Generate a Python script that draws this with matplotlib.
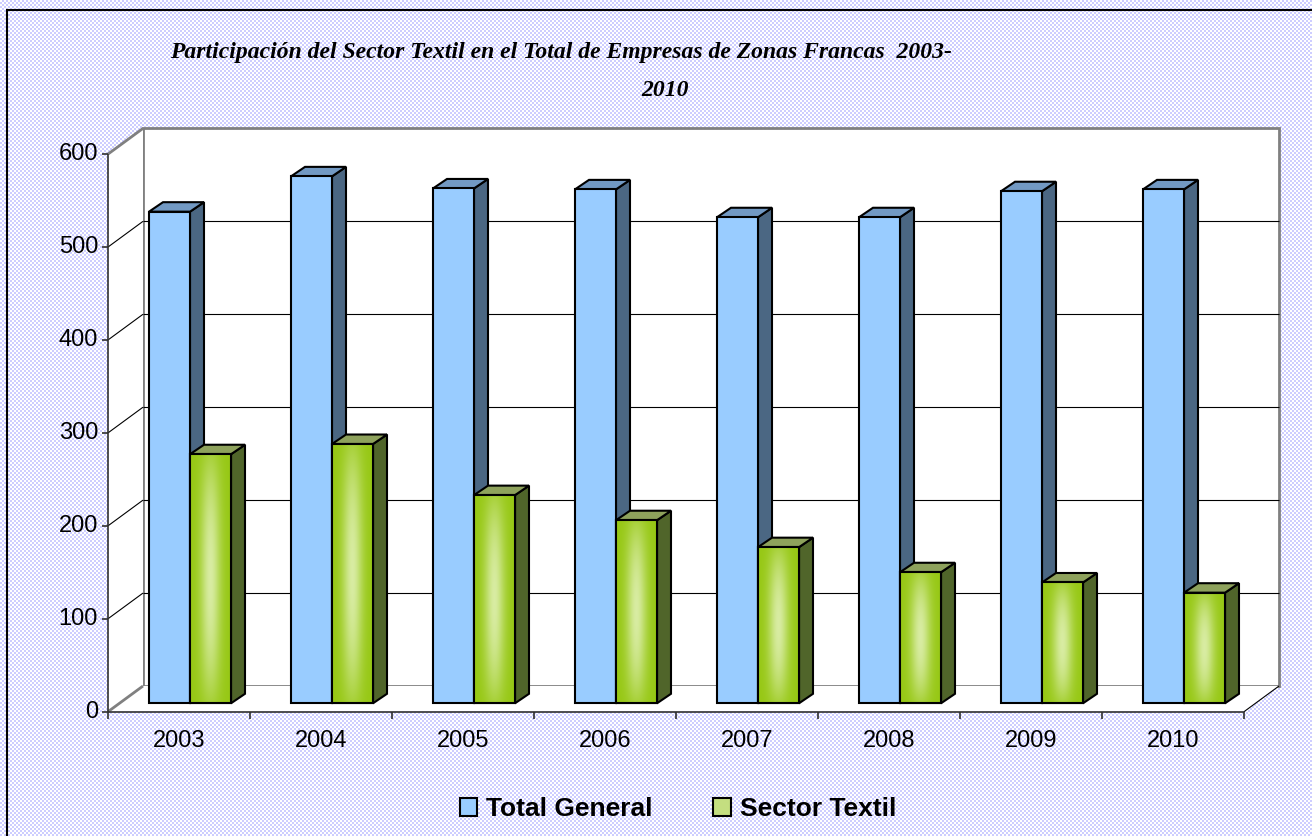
import numpy as np
import matplotlib
matplotlib.use("Agg")
import matplotlib.pyplot as plt
from matplotlib.colors import ListedColormap, LinearSegmentedColormap
from matplotlib.patches import Polygon, Rectangle, Patch

YEARS = ["2003", "2004", "2005", "2006", "2007", "2008", "2009", "2010"]
TOTAL_GENERAL = [529, 567, 554, 553, 523, 523, 551, 553]
SECTOR_TEXTIL = [268, 279, 224, 197, 168, 141, 130, 119]
Y_TICKS = [0, 100, 200, 300, 400, 500, 600]
SERIES = ["Total General", "Sector Textil"]
TITLE_1 = "Participación del Sector Textil en el Total de Empresas de Zonas Francas  2003-"
TITLE_2 = "2010"

W, H, DPI = 1312, 836, 100
BLUE = {"front": "#99ccff", "side": "#4b6783", "top": "#7299c3"}
GREEN = {"front": "#9acb1e", "side": "#50652a", "top": "#8ea25c"}
WALL_EDGE = "#808080"

fig = plt.figure(figsize=(W / DPI, H / DPI), dpi=DPI)

# patterned chart-area background
bg = fig.add_axes([0, 0, 1, 1])
bg.set_axis_off()
yy, xx = np.mgrid[0:H // 2, 0:W // 2]
bg.imshow((xx + yy) % 2, cmap=ListedColormap(["#ffffff", "#cdcdff"]),
          interpolation="nearest", extent=[0, W, 0, H], aspect="auto")
bg.add_patch(Rectangle((7, -10), W + 10, H - 10 + 10, fill=False,
                       ec="black", lw=1.5))
bg.set_xlim(0, W)
bg.set_ylim(0, H)

# bar plane axes
ax = fig.add_axes([119 / W, 132.7 / H, 1136 / W, 557.6 / H])
ax.set_axis_off()
ax.set_xlim(-0.5, len(YEARS) - 0.5)
ax.set_ylim(0, Y_TICKS[-1])
p0 = ax.transData.transform((0, 0))
p1 = ax.transData.transform((1, 1))
sx, sy = p1 - p0

fx, fy = -11 / sx, -8.4 / sy      # front plane offset
bx, by = 24 / sx, 17.3 / sy       # back wall offset
dx, dy = 14 / sx, 9.5 / sy        # bar depth
x0, x1 = -0.5, len(YEARS) - 0.5
ytop = Y_TICKS[-1]

# walls
ax.add_patch(Polygon([(x0 + bx, by), (x1 + bx, by), (x1 + bx, ytop + by),
                      (x0 + bx, ytop + by)], closed=True, fc="white",
                     ec=WALL_EDGE, lw=2, zorder=0, clip_on=False))
ax.add_patch(Polygon([(x0 + fx, fy), (x0 + fx, ytop + fy), (x0 + bx, ytop + by),
                      (x0 + bx, by)], closed=True, fc="white", ec="none",
                     zorder=0, clip_on=False))
ax.add_patch(Polygon([(x0 + fx, fy), (x1 + fx, fy), (x1 + bx, by),
                      (x0 + bx, by)], closed=True, fc="white", ec="none",
                     zorder=0, clip_on=False))
kw = dict(clip_on=False, solid_capstyle="butt")
ax.plot([x0 + fx, x0 + bx], [ytop + fy, ytop + by], color=WALL_EDGE, lw=2, zorder=1, **kw)
ax.plot([x0 + fx, x0 + bx], [fy, by], color=WALL_EDGE, lw=2, zorder=1, **kw)
ax.plot([x1 + fx, x1 + bx], [fy, by], color="black", lw=0.8, zorder=1, **kw)
for v in Y_TICKS[1:-1]:
    ax.plot([x0 + bx, x1 + bx], [v + by, v + by], color="black", lw=0.8, zorder=1, **kw)
    ax.plot([x0 + fx, x0 + bx], [v + fy, v + by], color="black", lw=0.8, zorder=1, **kw)

# front axes lines, ticks and labels
ax.plot([x0 + fx, x0 + fx], [fy, ytop + fy], color="#303030", lw=1.2, zorder=2, **kw)
ax.plot([x0 + fx, x1 + fx], [fy, fy], color="#303030", lw=1.2, zorder=2, **kw)
for v in Y_TICKS:
    ax.plot([x0 + fx - 6 / sx, x0 + fx], [v + fy, v + fy], color="#303030", lw=1.2, **kw)
    ax.text(x0 + fx - 10 / sx, v + fy, str(v), ha="right", va="center",
            fontsize=17, family="Liberation Sans")
for i in range(len(YEARS) + 1):
    ax.plot([i - 0.5 + fx, i - 0.5 + fx], [fy, fy - 7 / sy], color="#303030", lw=1.2, **kw)
for i, yr in enumerate(YEARS):
    ax.text(i + fx, fy - 29 / sy, yr, ha="center", va="center",
            fontsize=17, family="Liberation Sans")

# green gradient for front faces
u = np.linspace(0, 1, 60)
w = np.linspace(0, 1, 120)[:, None]
glow = np.exp(-((u - 0.5) / 0.25) ** 2) * (1 - 0.75 * (2 * w - 1) ** 2)
green_cmap = LinearSegmentedColormap.from_list("g", ["#97c815", "#d8eca2"])

bw = 41 / sx
z = 3
for i in range(len(YEARS)):
    for s, (vals, col) in enumerate([(TOTAL_GENERAL, BLUE), (SECTOR_TEXTIL, GREEN)]):
        v = vals[i]
        l = i - bw if s == 0 else i
        r = l + bw
        ax.add_patch(Polygon([(r, 0), (r, v), (r + dx, v + dy), (r + dx, dy)],
                             closed=True, fc=col["side"], ec="black", lw=1.5,
                             zorder=z, clip_on=False))
        ax.add_patch(Polygon([(l, v), (r, v), (r + dx, v + dy), (l + dx, v + dy)],
                             closed=True, fc=col["top"], ec="black", lw=1.5,
                             zorder=z, clip_on=False))
        front = Rectangle((l, 0), bw, v, fc=col["front"], ec="black", lw=1.5,
                          zorder=z + 0.1, clip_on=False)
        ax.add_patch(front)
        if s == 1:
            im = ax.imshow(glow, cmap=green_cmap, extent=[l, r, 0, v],
                           aspect="auto", origin="lower", zorder=z + 0.2,
                           interpolation="bilinear")
            im.set_clip_path(front)
            ax.add_patch(Rectangle((l, 0), bw, v, fc="none", ec="black", lw=1.5,
                                   zorder=z + 0.3, clip_on=False))
        z += 1

ax.set_xlim(x0, x1)
ax.set_ylim(0, ytop)

# title
fig.text(561 / W, 1 - 58 / H, TITLE_1, ha="center", va="baseline", fontsize=17,
         family="Liberation Serif", weight="bold", style="italic")
fig.text(665 / W, 1 - 96 / H, TITLE_2, ha="center", va="baseline", fontsize=17,
         family="Liberation Serif", weight="bold", style="italic")

# legend
handles = [Patch(fc=BLUE["front"], ec="black", lw=1.5),
           Patch(fc="#c4de80", ec="black", lw=1.5)]
fig.legend(handles, SERIES, loc="center", bbox_to_anchor=(678 / W, 27 / H),
           ncol=2, frameon=False, prop={"family": "Liberation Sans",
                                        "weight": "bold", "size": 19},
           handlelength=0.65, handleheight=0.65, handletextpad=0.35,
           columnspacing=2.3)

fig.savefig("out.png", dpi=DPI)
